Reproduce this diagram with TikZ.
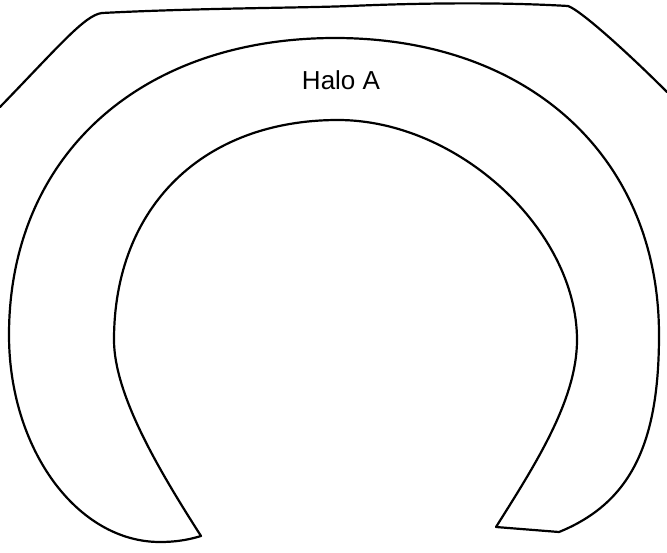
\documentclass[tikz,border=0pt]{standalone}
\usepackage{fontspec}
\newfontfamily\halofont{Liberation Sans}
\definecolor{LineClr}{rgb}{0,0,0}

\tikzset{
  halo line/.style={line width=2.2pt,color=LineClr,line join=round,line cap=round},
  halo label/.style={font=\halofont\fontsize{26}{30}\selectfont,anchor=base,inner sep=0pt}
}

\begin{document}
\begin{tikzpicture}[x=1pt,y=-1pt]
\useasboundingbox (0,0) rectangle (667,552);

% outer band, cut by the page edges
\draw[halo line] (0,107) .. controls (60,45) and (85,15) .. (102,13)
  .. controls (200,8) and (300,8) .. (350,6)
  .. controls (420,3) and (500,2) .. (568,6)
  .. controls (580,10) and (625,50) .. (667,92);

% horseshoe
\draw[halo line] (559,532)
  .. controls (633,502) and (659,440) .. (659,335)
  .. controls (659,157) and (529,38) .. (335,38)
  .. controls (139,38) and (9,157) .. (9,335)
  .. controls (9,449) and (77,542) .. (160,542)
  .. controls (175,542) and (188,540) .. (201,536)
  .. controls (160,472) and (114,395) .. (114,340)
  .. controls (114,206) and (204,120) .. (338,120)
  .. controls (458,120) and (577,230) .. (577,340)
  .. controls (577,400) and (535,465) .. (496,527)
  -- cycle;

\node[halo label] (haloA) at (341,89) {Halo A};

\end{tikzpicture}
\end{document}
